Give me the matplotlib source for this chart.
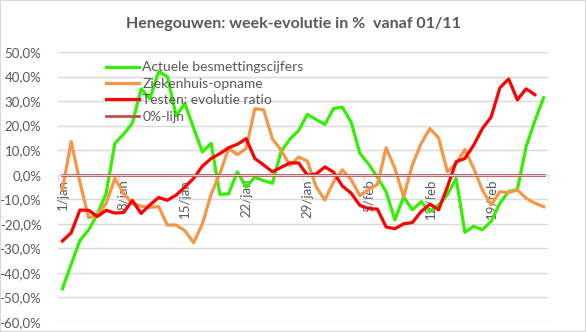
import pandas as pd
import matplotlib
matplotlib.use("Agg")
import matplotlib.pyplot as plt
from matplotlib.ticker import FuncFormatter, FixedLocator

# Henegouwen - week evolution (%) per day, 1 jan -> 25 feb
dates = pd.date_range("2021-01-01", periods=56, freq="D")

besmettingen = [
    -46.5, -36.5, -26.8, -22.5, -16.0, -7.7, 12.8, 16.5, 21.0, 35.0,
    31.0, 42.0, 40.0, 24.0, 29.0, 19.0, 9.3, 12.8, -8.0, -7.8,
    1.2, -5.0, -1.0, -2.4, -3.5, 9.5, 14.5, 18.0, 24.6, 22.5,
    20.5, 27.0, 27.5, 21.5, 8.7, 4.3, -1.0, -7.0, -18.4, -9.0,
    -14.3, -11.0, -15.0, -12.3, -8.2, -1.5, -23.5, -21.0, -22.4, -19.0,
    -11.6, -6.9, -6.0, 11.4, 22.0, 31.4,
]
ziekenhuis = [
    -6.0, 13.5, -3.0, -17.5, -16.5, -11.7, -1.5, -7.7, -11.7, -12.8,
    -13.3, -13.0, -20.5, -20.5, -22.8, -27.7, -20.0, -8.0, 0.5, 10.7,
    8.2, 10.7, 26.9, 26.5, 14.7, 10.0, 3.8, 7.2, 5.5, -4.9,
    -10.3, -2.8, 2.0, -2.0, -8.5, -6.0, -4.0, 11.0, 2.6, -9.0,
    4.0, 12.7, 18.8, 15.0, 1.2, 4.6, 10.3, 2.6, -6.2, -12.3,
    -6.9, -7.3, -6.2, -9.6, -11.6, -13.0,
]
testen = [
    -27.0, -23.7, -14.4, -14.5, -17.0, -14.5, -15.6, -15.4, -10.5, -15.8,
    -12.3, -9.3, -10.4, -8.3, -5.0, -1.5, 3.5, 6.6, 8.6, 11.0,
    12.4, 14.7, 6.6, 4.0, 1.2, 3.0, 4.8, 4.8, -0.2, 0.3,
    3.2, 1.0, -4.6, -7.5, -12.5, -13.8, -14.0, -21.3, -22.0, -20.0,
    -19.5, -15.0, -12.0, -14.3, -5.0, 5.3, 6.6, 12.0, 18.8, 23.5,
    35.4, 39.0, 30.5, 35.0, 32.6, None,
]
nul_lijn = [0.0] * 56

maanden = {1: "jan", 2: "feb"}
x_labels = [f"{d.day}/{maanden[d.month]}" for d in dates]

plt.rcParams["font.family"] = ["Lato", "DejaVu Sans"]
grey = "#595959"

fig = plt.figure(figsize=(5.86, 3.32), dpi=100)
ax = fig.add_axes([58 / 586, 10 / 332, 490 / 586, 270 / 332])

x = list(range(len(dates)))
ax.plot(x, besmettingen, color="#33F000", lw=2.3, label="Actuele besmettingscijfers")
ax.plot(x, ziekenhuis, color="#F79646", lw=2.3, label="Ziekenhuis-opname")
ax.plot(x, testen, color="#FF0000", lw=2.3, label="Testen: evolutie ratio")
ax.plot(x, nul_lijn, color="#C0504D", lw=2.0, label="0%-lijn")

ax.set_xlim(-0.5, len(dates) - 0.5)
ax.set_ylim(-60, 50)
ax.set_yticks(range(-60, 51, 10))
ax.yaxis.set_major_formatter(FuncFormatter(lambda v, p: f"{v:.1f}%".replace(".", ",")))
ax.grid(axis="y", color="#D9D9D9", lw=1)
ax.set_axisbelow(True)

# category axis crossing at 0, labels every 7 days
ax.spines["bottom"].set_position(("data", 0))
ax.spines["bottom"].set_color("#D9D9D9")
for s in ["top", "right", "left"]:
    ax.spines[s].set_visible(False)
major = list(range(0, len(dates), 7))
ax.set_xticks(major)
ax.set_xticklabels([x_labels[i] for i in major], rotation=90, color=grey, fontsize=9.5)
ax.xaxis.set_minor_locator(FixedLocator([i - 0.5 for i in range(0, len(dates) + 1, 7)]))
ax.tick_params(axis="x", which="major", length=0, pad=3)
ax.tick_params(axis="x", which="minor", length=4, color="#D9D9D9")
ax.tick_params(axis="y", length=0, labelcolor=grey, labelsize=9.5, pad=12)

fig.text(0.5, 1 - 24 / 332, "Henegouwen: week-evolutie in %  vanaf 01/11",
         ha="center", va="center", fontsize=11.5, fontweight="bold", color=grey)

leg = ax.legend(loc="upper left", bbox_to_anchor=(0.097, 0.965), frameon=False,
                fontsize=10, handlelength=2.4, handletextpad=0.25,
                labelspacing=0.32, borderpad=0, borderaxespad=0)
for t in leg.get_texts():
    t.set_color(grey)

fig.patches.append(plt.Rectangle((0, 0), 1, 1, transform=fig.transFigure,
                                 fill=False, edgecolor="#D9D9D9", lw=1.5))

fig.savefig("out.png", dpi=100)
